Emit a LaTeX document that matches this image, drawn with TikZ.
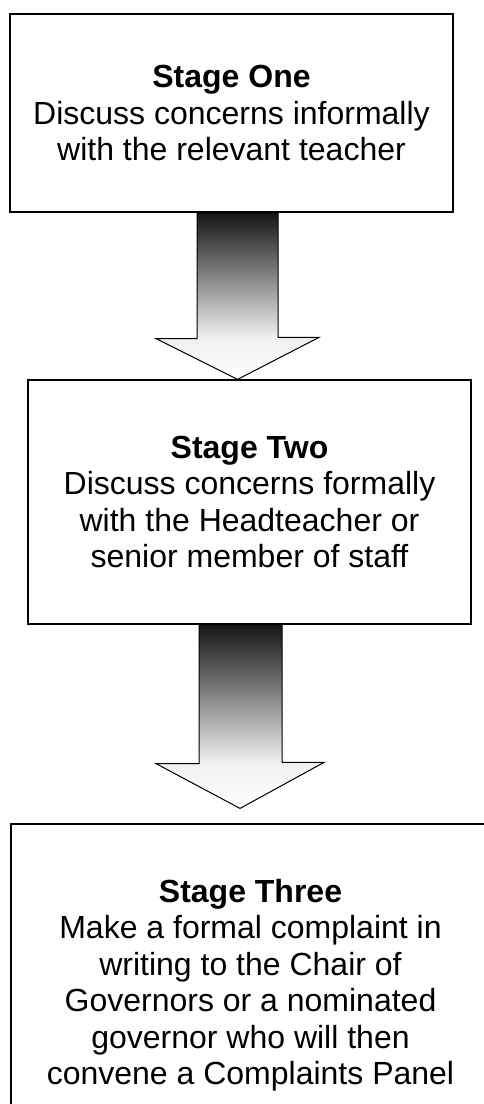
\documentclass[tikz,border=0pt]{standalone}
\usepackage{fontspec}
\setmainfont{Liberation Sans}
\usetikzlibrary{positioning}

\pgfdeclareverticalshading{arrowfade}{100bp}{color(0bp)=(white); color(25bp)=(white);
   color(37.5bp)=(white!94!black); color(75bp)=(black!92); color(100bp)=(black!92)}

\tikzset{
   stagebox/.style={draw, line width=1.2pt, align=center, inner sep=0pt,
                    font=\fontsize{32}{36.5}\selectfont},
   downarrow/.style={draw, line width=1pt, line join=miter, shading=arrowfade}
}

\begin{document}
\begin{tikzpicture}[x=1pt, y=-1pt]
   \useasboundingbox (0,0) rectangle (484,1104);
   \clip (0,0) rectangle (484,1104);
   \node[stagebox, minimum width=443pt, minimum height=198pt] (one) at (231.5,113)
      {\textbf{Stage One}\\Discuss concerns informally\\with the relevant teacher};
   \node[stagebox, minimum width=443pt, minimum height=244pt] (two) at (249.5,502)
      {\textbf{Stage Two}\\Discuss concerns formally\\with the Headteacher or\\senior member of staff};
   \node[stagebox, minimum width=479pt, minimum height=322pt] (three) at (250.5,985)
      {\textbf{Stage Three}\\Make a formal complaint in\\writing to the Chair of\\Governors or a nominated\\governor who will then\\convene a Complaints Panel};
   \draw[downarrow] ([xshift=-34.5pt]one.south) -- ++(0,126) -- ++(-41,0)
      -- ([xshift=6pt]one.south |- two.north) -- ++(81.5,-42) -- ++(-41,0)
      -- ([xshift=46.5pt]one.south) -- cycle;
   \draw[downarrow] ([xshift=-50.5pt]two.south) -- ++(0,139) -- ++(-43,0)
      -- ([xshift=-9.5pt,yshift=15pt]two.south |- three.north) -- ++(84,-46) -- ++(-42,0)
      -- ([xshift=32.5pt]two.south) -- cycle;
\end{tikzpicture}
\end{document}
